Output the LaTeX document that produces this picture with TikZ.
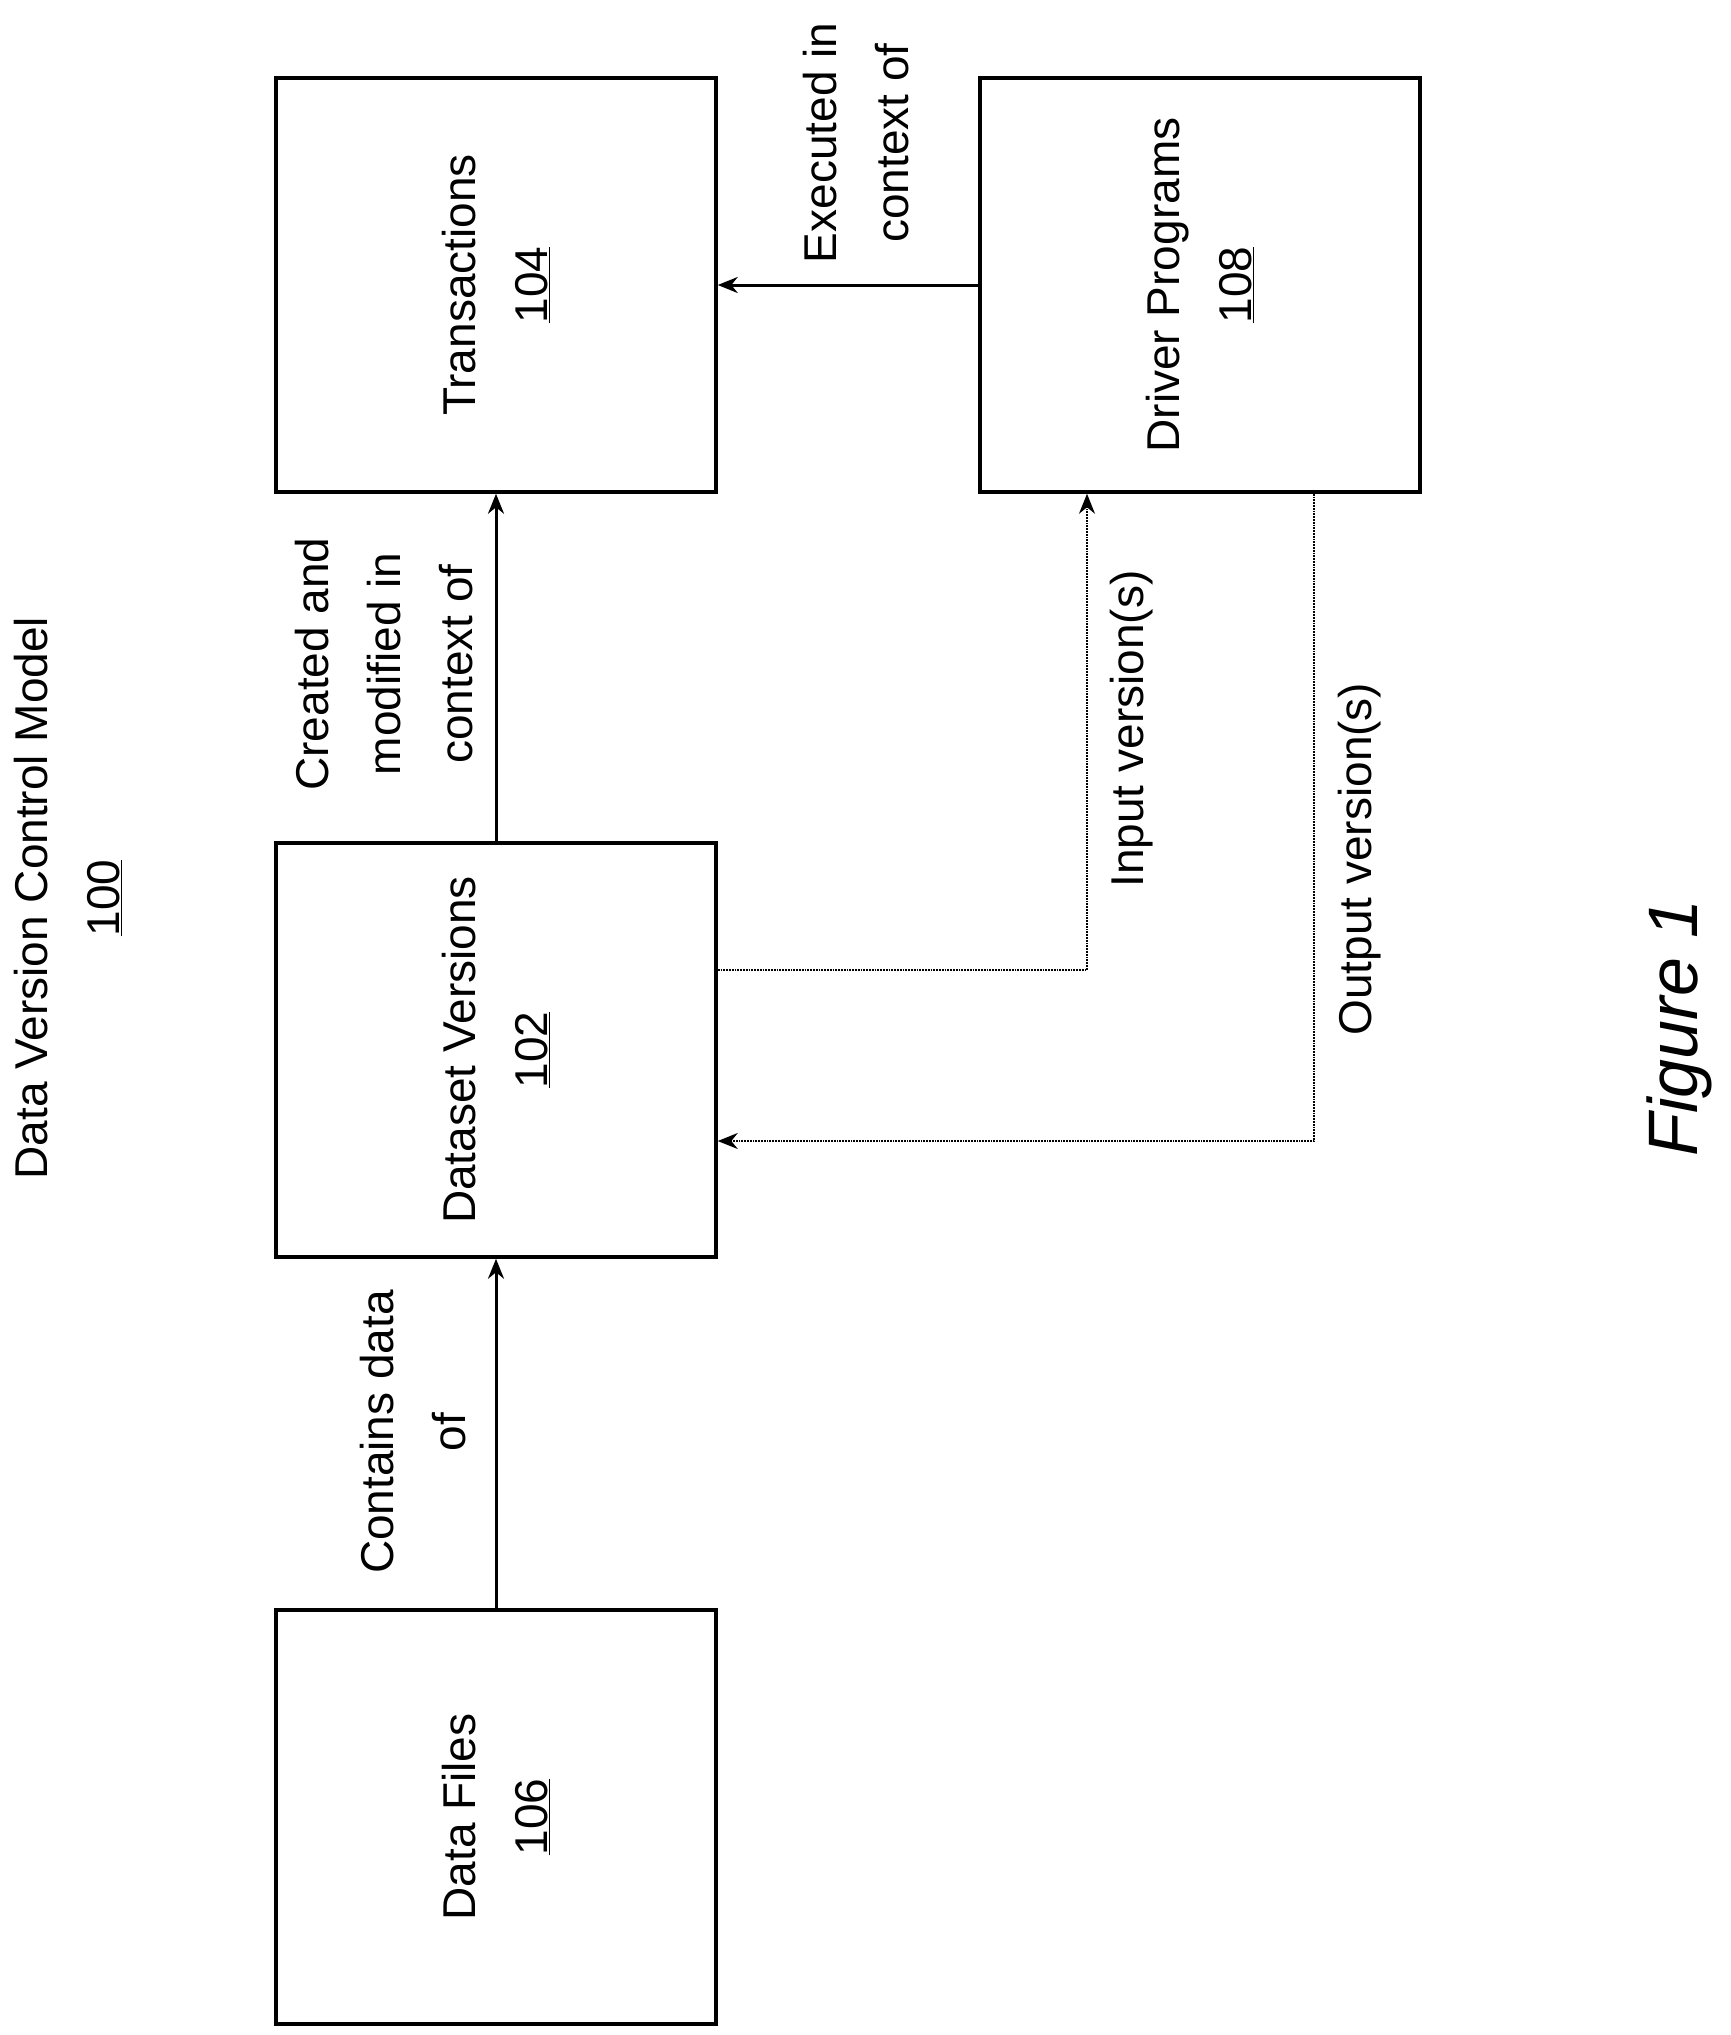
\documentclass[tikz,border=0pt]{standalone}
\usepackage{fontspec}
\setmainfont{Liberation Sans}
\usetikzlibrary{arrows.meta}
\begin{document}
\begin{tikzpicture}[x=1pt,y=-1pt,
  box/.style={draw,line width=3.5pt,minimum width=440pt,minimum height=414pt,inner sep=0},
  txt/.style={rotate=90,align=center,font=\fontsize{46}{72}\selectfont},
  lbl/.style={rotate=90,align=center,font=\fontsize{46}{72}\selectfont},
  arr/.style={line width=3pt,-{Stealth[length=20pt,width=16pt]}},
  dot/.style={line width=1.8pt,densely dotted,-{Stealth[length=20pt,width=16pt]}}]
\useasboundingbox (0,0) rectangle (1731,2035);
\node[box] (trans) at (496,285) {};
\node[box] (driver) at (1200,285) {};
\node[box] (ds) at (496,1050) {};
\node[box] (files) at (496,1817) {};
\node[txt] (t1) at (trans.center) {Transactions\\\underline{104}};
\node[txt] (t2) at (driver.center) {Driver Programs\\\underline{108}};
\node[txt] (t3) at (ds.center) {Dataset Versions\\\underline{102}};
\node[txt] (t4) at (files.center) {Data Files\\\underline{106}};
\node[lbl] (title) at (68,898) {Data Version Control Model\\\underline{100}};
\draw[arr] (files.north) -- (ds.south);
\draw[arr] (ds.north) -- (trans.south);
\draw[arr] (driver.west) -- (trans.east);
\coordinate (in) at (1087,970);
\coordinate (out) at (1314,1141);
\draw[dot] (in -| ds.east) -| (in |- driver.south);
\draw[dot] (out |- driver.south) |- (out -| ds.east);
\node[lbl] (l1) at (413,1432) {Contains data\\of};
\node[lbl] (l2) at (384,664) {Created and\\modified in\\context of};
\node[lbl] (l3) at (856,143) {Executed in\\context of};
\node[lbl] (l4) at (1132,729) {Input version(s)};
\node[lbl] (l5) at (1360,859) {Output version(s)};
\node[rotate=90,font=\fontsize{70}{80}\selectfont\itshape] (fig) at (1679,1028) {Figure 1};
\end{tikzpicture}
\end{document}
